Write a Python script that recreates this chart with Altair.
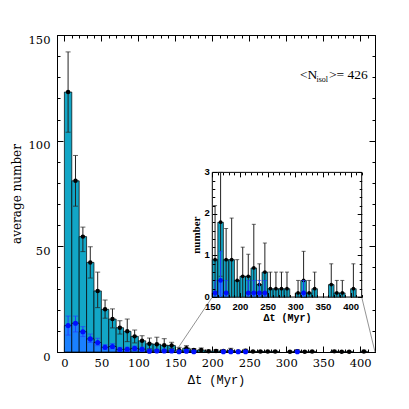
import altair as alt
import pandas as pd

# ---------------- data ----------------
bin_start = list(range(0, 410, 10))
bin_width = 10

total = [123, 81, 54.6, 42.4, 28.9, 20.2, 15.6, 11.5, 9.8, 7.4,
         5.3, 3.9, 3.7, 3.2, 3.1, 0.9, 1.8, 0.9, 0.9, 0.4,
         0.5, 0.5, 0.7, 0.3, 0.6, 0.2, 0.2, 0.2, 0.2, 0,
         0.1, 0.4, 0.1, 0.2, 0, 0, 0.3, 0.1, 0.1, 0, 0.2]
total_hi = [142, 93, 59.1, 49.8, 37.8, 24.6, 20.4, 14.8, 15.6, 10.4,
            7.7, 6.6, 7.0, 6.3, 4.6, 2.2, 3.0, 1.65, 1.9, 0.9,
            1.2, 1.03, 1.75, 0.8, 1.3, 0.6, 0.6, 0.6, 0.6, 0,
            0.4, 1.1, 0.4, 0.6, 0, 0, 0.8, 0.4, 0.4, 0, 0.8]
total_lo = [104, 69, 47.5, 35, 21, 16, 11.4, 8.5, 4.9, 4.3,
            1.4, 1.5, 1.2, 1.0, 1.6, 0, 0.5, 0, 0, 0,
            0, 0, 0, 0, 0, 0, 0, 0, 0, 0,
            0, 0, 0, 0, 0, 0, 0, 0, 0, 0, 0]
isol = [12.5, 13.6, 9.6, 6.2, 4.5, 2.2, 2.6, 1.2, 1.3, 1.7,
        1.3, 0.4, 0.5, 0.5, 0.5, 0.1, 0.4, 0.1, 0, 0,
        0, 0.1, 0.1, 0.1, 0.1, 0, 0, 0, 0, 0,
        0, 0.1, 0, 0, 0, 0, 0, 0, 0, 0, 0]
isol_hi = [17, 17, 12, 8.5, 6.5, 3.5, 4.0, 2.2, 2.3, 2.8,
           2.3, 1.2, 1.3, 1.3, 1.2, 0.4, 1.1, 0.4, 0, 0,
           0, 0.4, 0.4, 0.4, 0.4, 0, 0, 0, 0, 0,
           0, 0.4, 0, 0, 0, 0, 0, 0, 0, 0, 0]
isol_lo = [8, 9.5, 7.3, 4.5, 3, 1.3, 1.5, 0.5, 0.5, 0.8,
           0.5, 0, 0, 0, 0, 0, 0, 0, 0, 0,
           0, 0, 0, 0, 0, 0, 0, 0, 0, 0,
           0, 0, 0, 0, 0, 0, 0, 0, 0, 0, 0]

main_x_major = [0, 50, 100, 150, 200, 250, 300, 350, 400]
main_x_minor = list(range(-10, 421, 10))
main_y_major = [0, 50, 100, 150]
main_y_minor = list(range(0, 151, 10))
inset_x_major = [150, 200, 250, 300, 350, 400]
inset_x_minor = list(range(150, 421, 10))
inset_y_major = [0, 1, 2, 3]
inset_y_minor = [round(0.2 * k, 1) for k in range(16)]

annot_text = ["<N", "isol", ">=  426"]

# ---------------- layout ----------------
W, H = 318, 317
X_DOM = [-10, 420]
Y_DOM = [0, 150]
INSET_X_DOM = [150, 420]
INSET_Y_DOM = [0, 3]
INSET_BOX_X = [200, 402]   # inset placement in main-data units
INSET_BOX_Y = [26, 85]


def sx(v):
    return (v - X_DOM[0]) / (X_DOM[1] - X_DOM[0]) * W


def sy(v):
    return H * (1 - (v - Y_DOM[0]) / (Y_DOM[1] - Y_DOM[0]))


IX = [sx(INSET_BOX_X[0]), sx(INSET_BOX_X[1])]
IY = [sy(INSET_BOX_Y[0]), sy(INSET_BOX_Y[1])]

CYAN = "#12a6c6"
BLUE_BAR = "#1a80ff"
BLUE_PT = "#0010ff"
BLUE_ERR = "#2040ff"
ERR = "#222222"

df = pd.DataFrame({
    "x0": bin_start,
    "x1": [b + bin_width for b in bin_start],
    "xc": [b + bin_width / 2 for b in bin_start],
    "total": total, "thi": total_hi, "tlo": total_lo,
    "isol": isol, "ihi": isol_hi, "ilo": isol_lo,
})

mx = alt.Scale(domain=X_DOM, nice=False, zero=False)
my = alt.Scale(domain=Y_DOM, nice=False, zero=False)
ixs = alt.Scale(domain=INSET_X_DOM, range=IX, nice=False, zero=False)
iys = alt.Scale(domain=INSET_Y_DOM, range=IY, nice=False, zero=False)

base = alt.Chart(df)


def panel(xs, ys, cap, dot_k, blue_dot, filt=None):
    b = base
    if filt:
        b = b.transform_filter(filt)
    X = lambda f: alt.X(f, type="quantitative", scale=xs, axis=None)
    Y = lambda f: alt.Y(f, type="quantitative", scale=ys, axis=None)
    layers = []
    layers.append(b.transform_filter("datum.total > 0").mark_rect(
        fill=CYAN, stroke="black", strokeWidth=0.7).encode(
        x=X("x0"), x2="x1", y=Y("total"), y2=alt.datum(0)))
    layers.append(b.transform_filter("datum.isol > 0").mark_rect(
        fill=BLUE_BAR, stroke="black", strokeWidth=0.7).encode(
        x=X("x0"), x2="x1", y=Y("isol"), y2=alt.datum(0)))
    # black error bars
    eb = b.transform_filter("datum.thi > datum.total")
    layers.append(eb.mark_rule(color=ERR, strokeWidth=1).encode(
        x=X("xc"), y=Y("tlo"), y2="thi"))
    layers.append(eb.transform_fold(["tlo", "thi"], as_=["k", "v"])
                  .transform_filter("datum.k == 'thi' || datum.v > 0")
                  .mark_tick(color=ERR, orient="horizontal", size=cap, thickness=1).encode(
        x=X("xc"), y=Y("v:Q")))
    layers.append(b.transform_filter("datum.total > 0").mark_circle(
        color="black", opacity=1, size=dot_k).encode(x=X("xc"), y=Y("total")))
    # blue error bars
    be = b.transform_filter("datum.ihi > datum.isol")
    layers.append(be.mark_rule(color=BLUE_ERR, strokeWidth=1).encode(
        x=X("xc"), y=Y("ilo"), y2="ihi"))
    layers.append(be.transform_fold(["ilo", "ihi"], as_=["k", "v"])
                  .transform_filter("datum.k == 'ihi' || datum.v > 0")
                  .mark_tick(color=BLUE_ERR, orient="horizontal", size=cap, thickness=1).encode(
        x=X("xc"), y=Y("v:Q")))
    layers.append(b.transform_filter("datum.isol > 0").mark_circle(
        color=BLUE_PT, opacity=1, size=blue_dot).encode(x=X("xc"), y=Y("isol")))
    return layers


main_layers = panel(mx, my, 5, 20, 26)

# connector lines from main axis to inset corners
conn = pd.DataFrame({
    "xa": [INSET_X_DOM[0], INSET_X_DOM[1]], "ya": [0, 0],
    "xb": [INSET_BOX_X[0], INSET_BOX_X[1]], "yb": [INSET_BOX_Y[0], INSET_BOX_Y[0]],
})
conn_layer = alt.Chart(conn).mark_rule(color="#777777", strokeWidth=0.8).encode(
    x=alt.X("xa:Q", scale=mx, axis=None), y=alt.Y("ya:Q", scale=my, axis=None),
    x2="xb:Q", y2="yb:Q")

frame = pd.DataFrame({"x": [INSET_X_DOM[0]], "x2": [INSET_X_DOM[1]],
                      "y": [INSET_Y_DOM[0]], "y2": [INSET_Y_DOM[1]]})
inset_frame = alt.Chart(frame).mark_rect(fill="white", stroke="black", strokeWidth=1).encode(
    x=alt.X("x:Q", scale=ixs, axis=None), x2="x2:Q",
    y=alt.Y("y:Q", scale=iys, axis=None), y2="y2:Q")

inset_layers = panel(ixs, iys, 4, 14, 22, filt="datum.x0 >= 150")

# ---------------- axes (inward ticks) ----------------
MAIN_LBL = dict(labelFont="DejaVu Serif", labelFontSize=11.5, labelColor="black")
INSET_LBL = dict(labelFont="Liberation Sans", labelFontSize=9.5, labelFontWeight="bold",
                 labelColor="black")


def axis(orient, values, size, shift, labels=False, title=None, zindex=0, **kw):
    props = dict(orient=orient, values=values, tickSize=size, offset=-(shift + size),
                 domain=False, grid=False, labels=labels, tickColor="black", tickWidth=1,
                 labelFlush=False, labelOverlap=False, zindex=zindex, title=title)
    props.update(kw)
    return alt.Axis(**props)


def axis_layer(xs, ys, xaxis, yaxis):
    return base.mark_point(opacity=0).encode(
        x=alt.X("xc:Q", scale=xs, axis=xaxis),
        y=alt.Y("total:Q", scale=ys, axis=yaxis))


axis_layers = [
    axis_layer(mx, my,
               axis("bottom", main_x_major, 6, 0, labels=True, title="Δt (Myr)",
                    labelPadding=5, titleFont="Liberation Mono", titleFontSize=12,
                    titleFontWeight="normal", titleColor="black", titlePadding=6, **MAIN_LBL),
               axis("left", main_y_major, 6, 0, labels=True, title="average number",
                    labelPadding=7, labelOffset=5, titleFont="DejaVu Serif", titleFontSize=12,
                    titleFontWeight="normal", titleColor="black", titlePadding=5, **MAIN_LBL)),
    axis_layer(mx, my, axis("bottom", main_x_minor, 3, 0), axis("left", main_y_minor, 3, 0)),
    axis_layer(mx, my, axis("top", main_x_major, 6, 0), axis("right", main_y_major, 6, 0)),
    axis_layer(mx, my, axis("top", main_x_minor, 3, 0), axis("right", main_y_minor, 3, 0)),
    axis_layer(ixs, iys,
               axis("bottom", inset_x_major, 4.5, H - IY[0], labels=True, title="Δt (Myr)",
                    zindex=1, labelPadding=4, titleFont="Liberation Mono", titleFontSize=10,
                    titleFontWeight="bold", titleColor="black", titlePadding=2, **INSET_LBL),
               axis("left", inset_y_major, 4.5, IX[0], labels=True, title="number",
                    zindex=1, labelPadding=3, labelOffset=-1, titleFont="Liberation Serif",
                    titleFontSize=11, titleFontWeight="bold", titleColor="black",
                    titlePadding=3, **INSET_LBL)),
    axis_layer(ixs, iys, axis("bottom", inset_x_minor, 2.5, H - IY[0], zindex=1),
               axis("left", inset_y_minor, 2.5, IX[0], zindex=1)),
    axis_layer(ixs, iys, axis("top", inset_x_major, 4.5, IY[1], zindex=1),
               axis("right", inset_y_major, 4.5, W - IX[1], zindex=1)),
    axis_layer(ixs, iys, axis("top", inset_x_minor, 2.5, IY[1], zindex=1),
               axis("right", inset_y_minor, 2.5, W - IX[1], zindex=1)),
]

# ---------------- annotation ----------------
ann = pd.DataFrame({"t": annot_text})
ann_layers = [
    alt.Chart(ann).transform_filter(alt.datum.t == annot_text[0]).mark_text(
        font="Liberation Serif", fontSize=13.5, align="left", baseline="alphabetic", color="black"
    ).encode(text="t:N", x=alt.value(243), y=alt.value(44)),
    alt.Chart(ann).transform_filter(alt.datum.t == annot_text[1]).mark_text(
        font="Liberation Serif", fontSize=8, align="left", baseline="alphabetic", color="black"
    ).encode(text="t:N", x=alt.value(259.5), y=alt.value(47)),
    alt.Chart(ann).transform_filter(alt.datum.t == annot_text[2]).mark_text(
        font="Liberation Serif", fontSize=13.5, align="left", baseline="alphabetic", color="black"
    ).encode(text="t:N", x=alt.value(272), y=alt.value(44)),
]

chart = alt.layer(
    *main_layers, conn_layer, inset_frame, *inset_layers, *axis_layers, *ann_layers
).resolve_scale(x="independent", y="independent").resolve_axis(
    x="independent", y="independent"
).properties(
    width=W, height=H,
    padding={"left": 49, "top": 27, "right": 14, "bottom": 50},
    autosize=alt.AutoSizeParams(type="none"),
    background="white",
).configure_view(stroke="black", strokeWidth=1)

chart.save("out.html", embed_options={"renderer": "svg", "actions": False})
